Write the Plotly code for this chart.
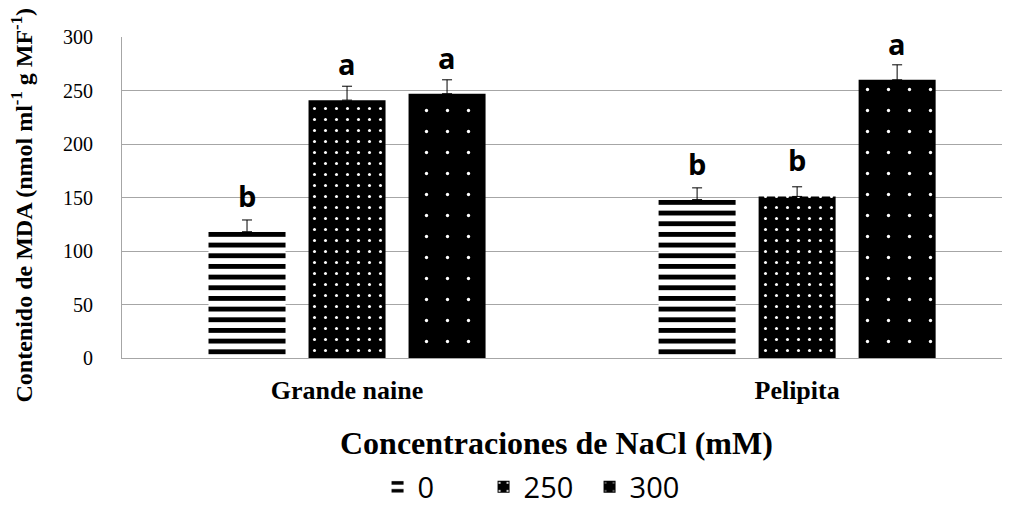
import plotly.graph_objects as go

cultivars = ["Grande naine", "Pelipita"]
series_names = ["0", "250", "300"]
mda_0 = [118, 148]
mda_250 = [241, 151]
mda_300 = [247, 260]
err_0 = [11, 11]
err_250 = [13, 9]
err_300 = [13, 14]
letters_0 = ["b", "b"]
letters_250 = ["a", "b"]
letters_300 = ["a", "a"]

values = [mda_0, mda_250, mda_300]
errors = [err_0, err_250, err_300]
letters = [letters_0, letters_250, letters_300]
patterns = [
    dict(shape="-", fgcolor="black", bgcolor="white", size=10.67, solidity=0.45, fillmode="replace"),
    dict(shape=".", fgcolor="white", bgcolor="black", size=11, solidity=0.06, fillmode="replace"),
    dict(shape=".", fgcolor="white", bgcolor="black", size=21, solidity=0.02, fillmode="replace"),
]

bargap = 1 / 3
xs = list(range(len(cultivars)))

fig = go.Figure()
for k, name in enumerate(series_names):
    fig.add_trace(go.Bar(
        x=xs, y=values[k], name=name,
        marker=dict(color="black", line=dict(width=0), pattern=patterns[k]),
        error_y=dict(type="data", array=errors[k], arrayminus=[0] * len(xs),
                     symmetric=False, color="black", thickness=1, width=5),
    ))

# significance letters, placed like data labels above each bar
slot = (1 - bargap) / len(series_names)
for k in range(len(series_names)):
    off = (k - (len(series_names) - 1) / 2) * slot
    for i, x in enumerate(xs):
        fig.add_annotation(
            x=x + off, y=values[k][i], text=letters[k][i],
            xanchor="center", yanchor="bottom", yshift=15, showarrow=False,
            font=dict(family="Open Sans", size=29, color="black", weight="bold"),
        )

# axis titles as annotations so they sit where the original has them
fig.add_annotation(
    text="Contenido de MDA (nmol ml<sup>-1</sup> g MF<sup>-1</sup>)",
    textangle=-90, xref="paper", yref="paper", x=-0.113, y=0.477,
    xanchor="center", yanchor="middle", showarrow=False,
    font=dict(family="Liberation Serif", size=24, weight="bold", color="black"),
)
fig.add_annotation(
    text="Concentraciones de NaCl (mM)",
    xref="paper", yref="paper", x=0.4893, y=-0.2648,
    xanchor="center", yanchor="middle", showarrow=False,
    font=dict(family="Liberation Serif", size=32, weight="bold", color="black"),
)

# page body adds 8px margin, so figure is 1002x500
fig.update_layout(
    barmode="group", bargap=bargap, bargroupgap=0.23,
    width=1002, height=500,
    plot_bgcolor="white", paper_bgcolor="white",
    margin=dict(l=114, r=0, t=29, b=150),
    font=dict(family="Liberation Serif", color="black"),
    legend=dict(orientation="h", xref="container", yref="container",
                x=0.5275, xanchor="center", y=0.042, yanchor="middle",
                entrywidth=61, entrywidthmode="pixels",
                font=dict(family="Open Sans", size=29, color="black")),
)
fig.update_xaxes(
    range=[-0.5, 1.473], tickvals=xs, ticktext=cultivars, automargin=False,
    tickfont=dict(family="Liberation Serif", size=26, weight="bold"),
    ticks="", ticklabelstandoff=9, showgrid=False,
    showline=True, linecolor="#a6a6a6", linewidth=1,
)
fig.update_yaxes(
    range=[0, 300], dtick=50, automargin=False,
    tickfont=dict(family="Liberation Serif", size=20),
    ticks="", ticklabelstandoff=24,
    showgrid=True, gridcolor="#a6a6a6", gridwidth=1,
    showline=True, linecolor="#a6a6a6", linewidth=1, zeroline=False,
)

fig.write_html("out.html")
